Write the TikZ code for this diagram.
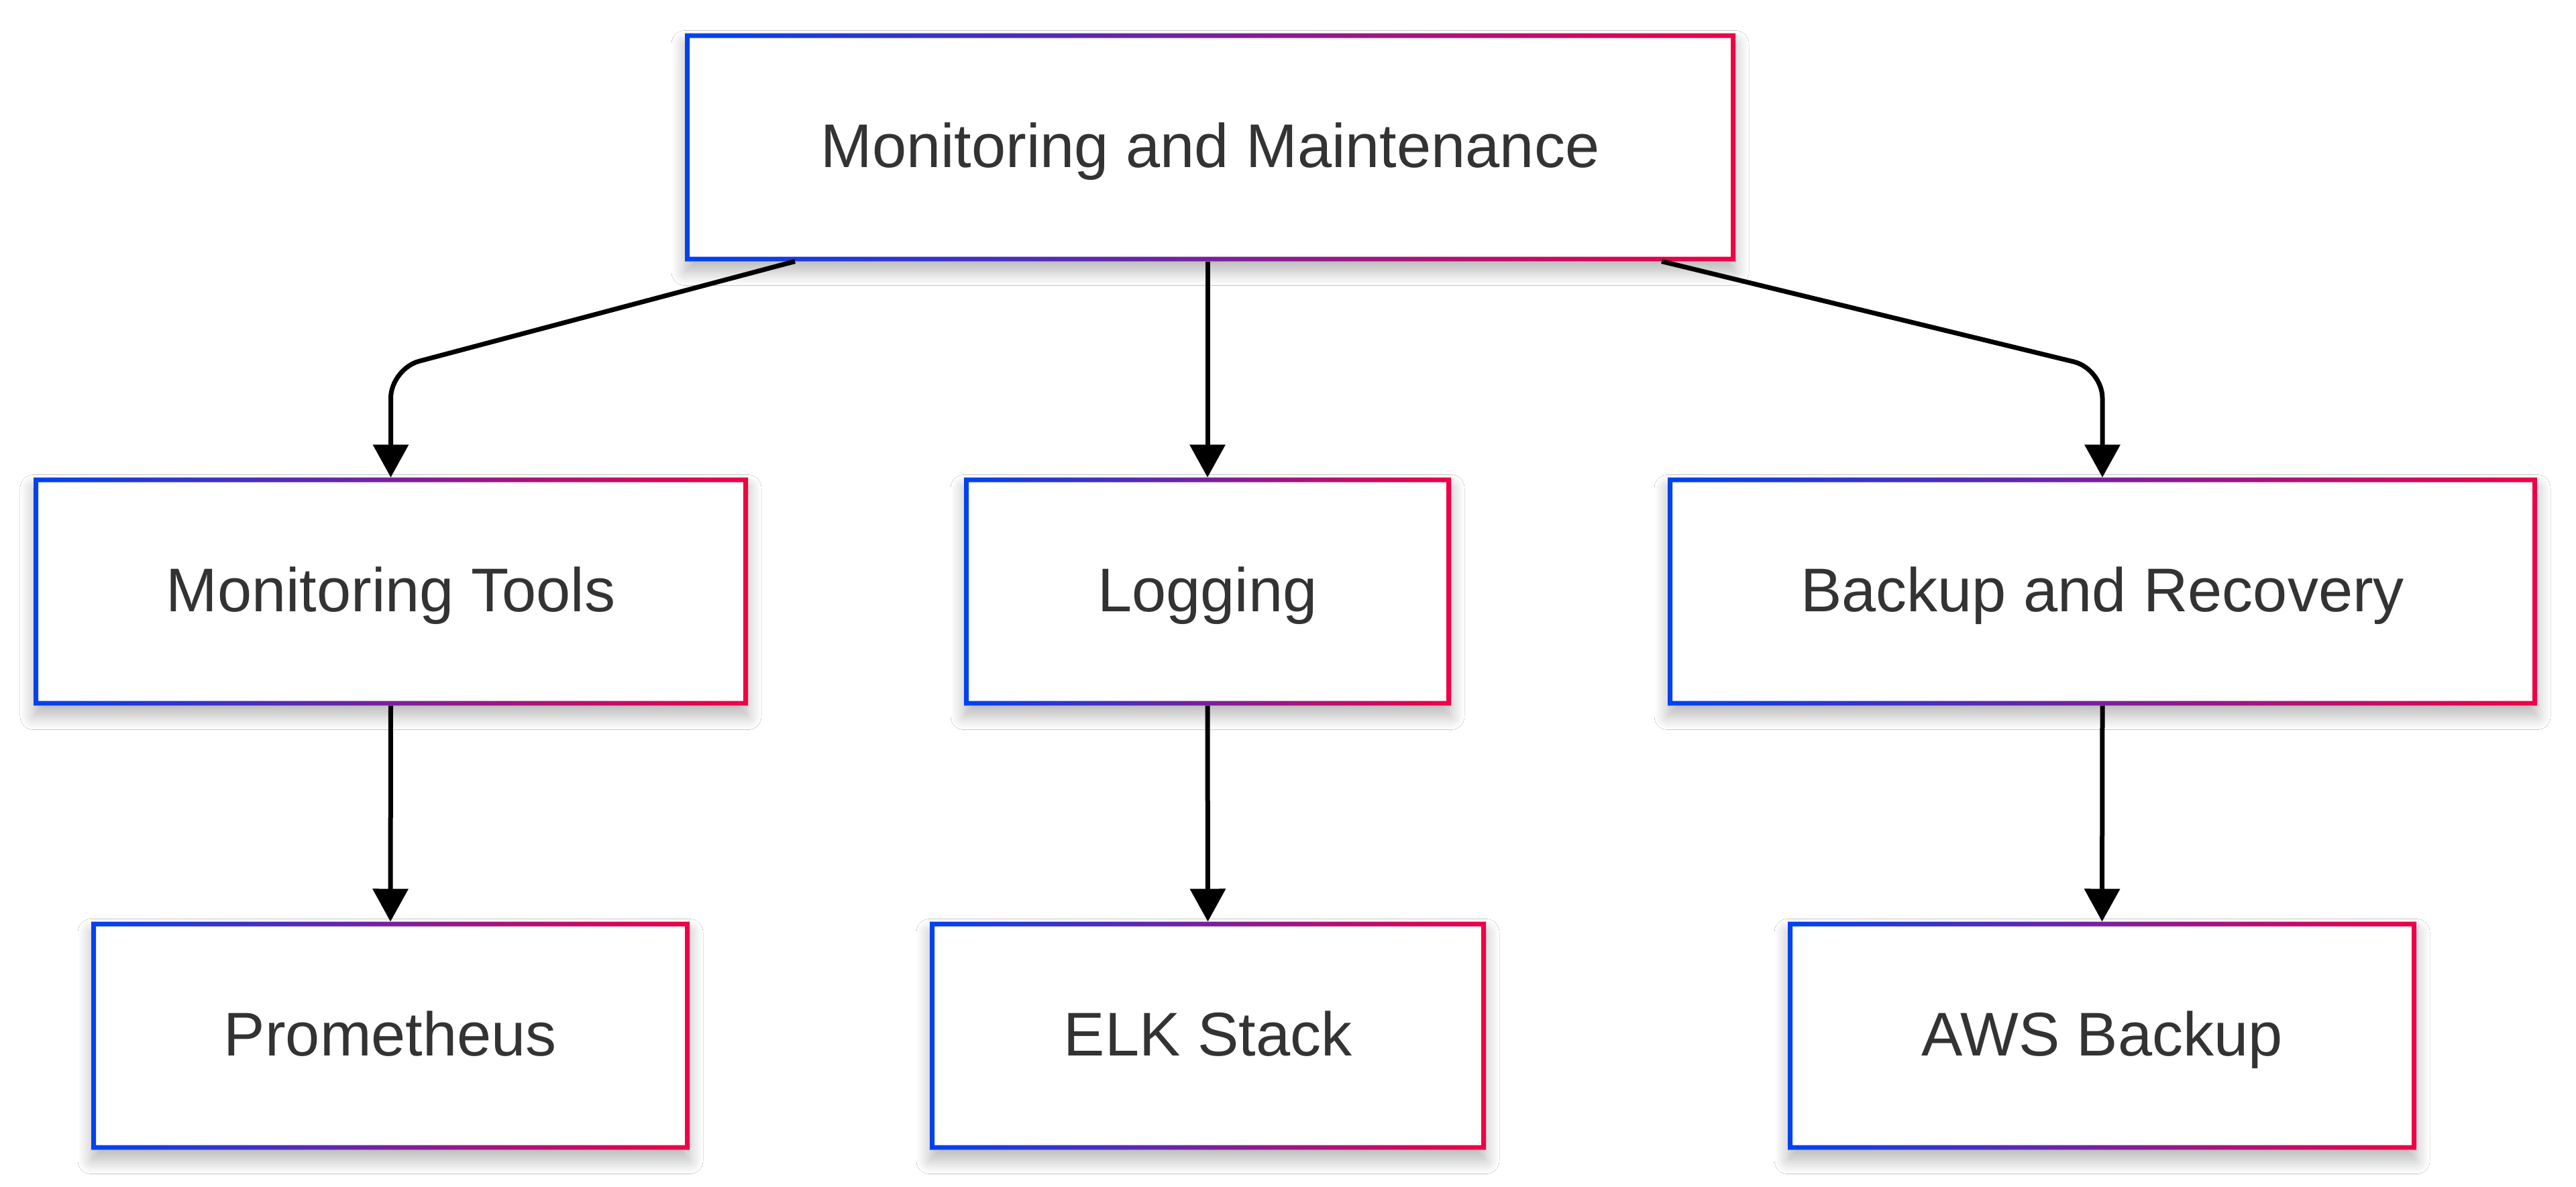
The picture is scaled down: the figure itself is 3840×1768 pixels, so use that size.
\documentclass[tikz,border=0pt]{standalone}
\usepackage{fontspec}
\setmainfont{Liberation Sans}
\usetikzlibrary{arrows.meta,shadows.blur}
\definecolor{gl}{RGB}{0,66,240}
\definecolor{gr}{RGB}{240,0,70}
\definecolor{txt}{HTML}{333333}
\tikzset{
  box/.style={rectangle, fill=white, inner sep=0pt, outer sep=0pt, minimum height=85pt,
    text=txt, font=\fontsize{23pt}{27pt}\selectfont, text height=16.5pt, text depth=1.5pt,
    blur shadow={shadow xshift=0pt, shadow yshift=-4pt, shadow blur radius=5pt, shadow opacity=28, shadow blur steps=12}},
  conn/.style={draw=black, line width=1.75pt, -{Triangle[width=13pt,length=12.25pt]}, rounded corners=11pt},
}
\newcommand\gring[1]{\shade[left color=gl,right color=gr,even odd rule] (#1.north west) rectangle (#1.south east) ([xshift=1.75pt,yshift=-1.75pt]#1.north west) rectangle ([xshift=-1.75pt,yshift=1.75pt]#1.south east);}
\begin{document}
\begin{tikzpicture}[x=0.25pt,y=-0.25pt]
\fill[white] (0,0) rectangle (3840,1768);
\useasboundingbox (0,0) rectangle (3840,1768);
\node[box,minimum width=391.5pt] (top) at (1804,219.5) {Monitoring and Maintenance};
\node[box,minimum width=266.25pt] (mt) at (582.5,881.5) {Monitoring Tools};
\node[box,minimum width=181.5pt] (lg) at (1800,881.5) {Logging};
\node[box,minimum width=324pt] (br) at (3134,881.5) {Backup and Recovery};
\node[box,minimum width=223pt] (pr) at (582,1543.5) {Prometheus};
\node[box,minimum width=207.25pt] (elk) at (1800.5,1543.5) {ELK Stack};
\node[box,minimum width=234.25pt] (aws) at (3133.5,1543.5) {AWS Backup};
\gring{top}\gring{mt}\gring{lg}\gring{br}\gring{pr}\gring{elk}\gring{aws}
\draw[conn] ([xshift=-154.75pt]top.south) -- ([yshift=40.5pt]mt.north) -- (mt.north);
\draw[conn] (top.south -| lg.north) -- (lg.north);
\draw[conn] ([xshift=168.25pt]top.south) -- ([yshift=40.5pt]br.north) -- (br.north);
\draw[conn] (mt.south) -- (pr.north);
\draw[conn] (lg.south) -- (elk.north);
\draw[conn] (br.south) -- (aws.north);
\end{tikzpicture}
\end{document}
